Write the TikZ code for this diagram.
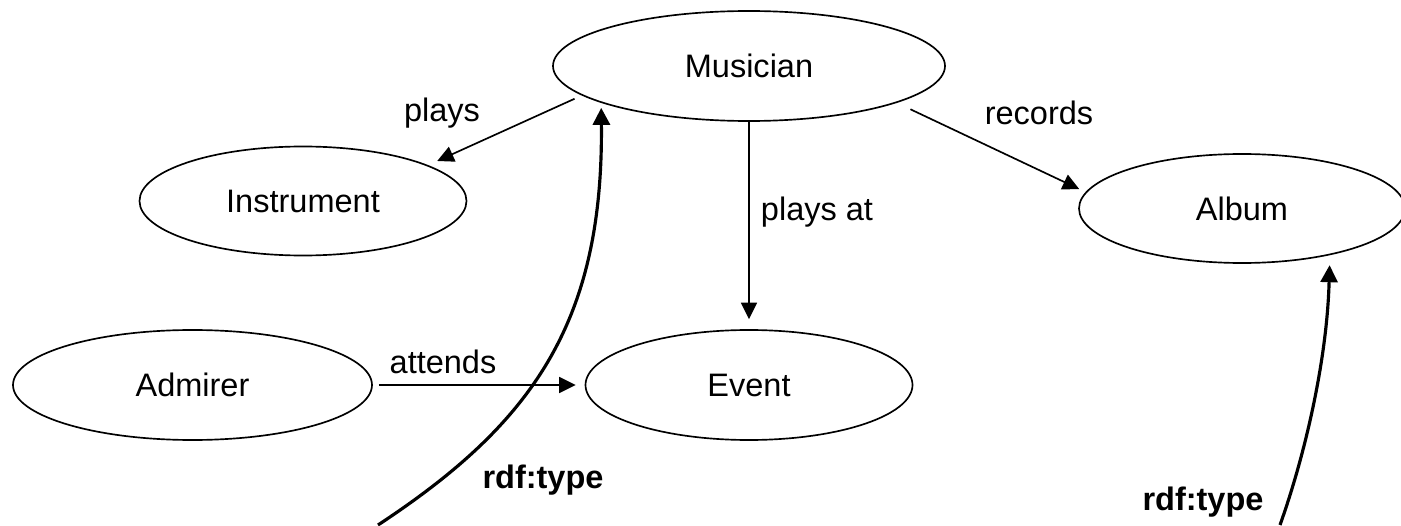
\documentclass[tikz,border=0pt]{standalone}
\usepackage{fontspec}
\setmainfont{Liberation Sans}
\usepackage{xcolor}
\usepackage{tikz}
\usetikzlibrary{arrows.meta,positioning,shapes.geometric}

\begin{document}
\begin{tikzpicture}[font=\fontsize{18.5pt}{22pt}\selectfont,
  cls/.style={draw,ellipse,line width=0.95pt,inner sep=0pt,minimum height=2.2cm},
  rel/.style={-{Triangle[length=0.33cm,width=0.32cm]},line width=0.95pt},
  typ/.style={-{Triangle[length=0.34cm,width=0.34cm]},line width=1.8pt},
  typelbl/.style={font=\fontsize{18.5pt}{22pt}\selectfont\bfseries}]
\useasboundingbox (0,0) rectangle (28.02,10.5);
% classes
\node[cls,minimum width=7.84cm] (musician) at (14.98,9.18) {Musician};
\node[cls,minimum width=6.54cm,minimum height=2.18cm] (instrument) at (6.06,6.48) {Instrument};
\node[cls,minimum width=6.52cm,minimum height=2.18cm] (album) at (24.84,6.33) {Album};
\node[cls,minimum width=7.18cm] (admirer) at (3.85,2.8) {Admirer};
\node[cls,minimum width=6.54cm] (event) at (14.98,2.8) {Event};
% properties
\draw[rel,shorten <=0.16cm,shorten >=0.2cm] (musician.190.6) -- (instrument.16.3);
\draw[rel,shorten >=0.2cm] (musician.south) -- (event.north);
\draw[rel,shorten <=0.3cm,shorten >=0.14cm] (musician.-14) -- (album.174.6);
\draw[rel,shorten <=0.12cm,shorten >=0.18cm] (admirer.east) -- (event.west);
\node (lplays) at (8.84,8.24) {plays};
\node (lrecords) at (20.78,8.24) {records};
\node (lplaysat) at (16.34,6.26) {plays at};
\node (lattends) at (8.86,3.26) {attends};
% instance links
\coordinate (foot1) at (7.56,0);
\coordinate (foot2) at (25.6,0);
\draw[typ,shorten >=0.1cm] (foot1) .. controls (10.6,2.0) and (12.07,4.0) .. (musician.194.2);
\draw[typ,shorten >=0.2cm] (foot2) .. controls (26.1,1.4) and (26.54,3.3) .. (album.-28.7);
\node[typelbl] (ltype1) at (10.86,0.9) {rdf:type};
\node[typelbl] (ltype2) at (24.06,0.46) {rdf:type};
\end{tikzpicture}
\end{document}
